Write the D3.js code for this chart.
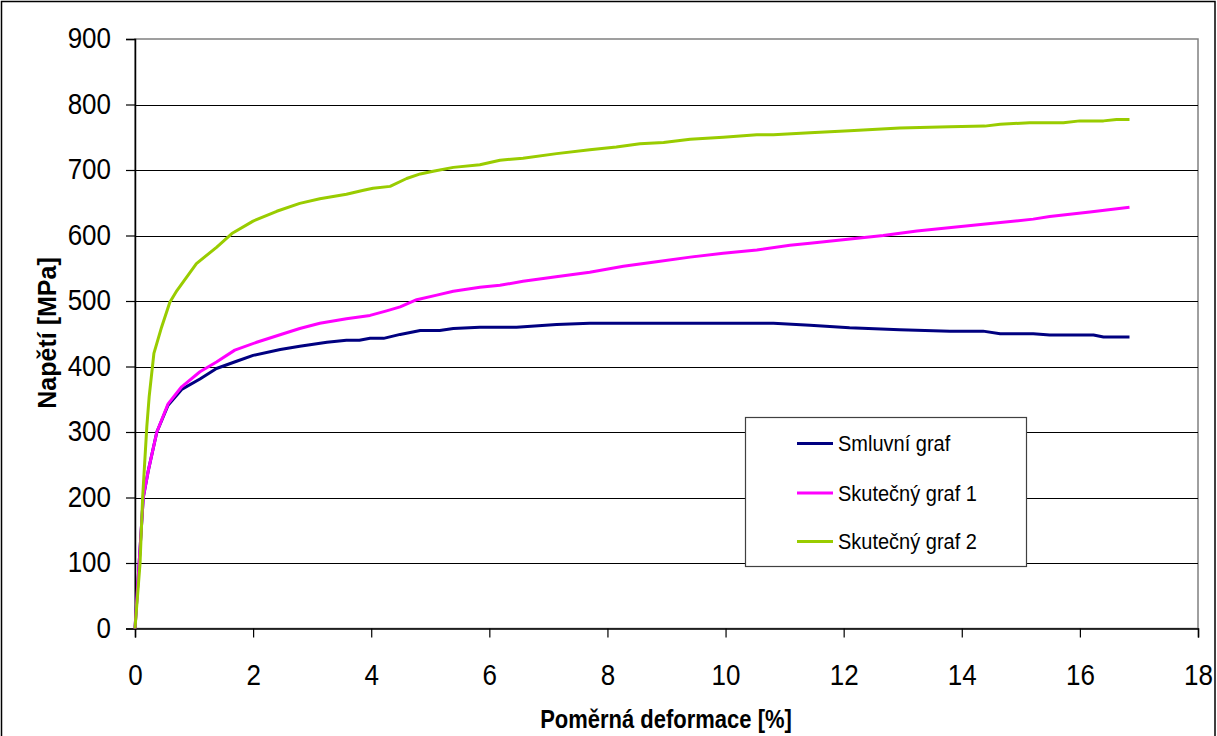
<!DOCTYPE html>
<html>
<head>
<meta charset="utf-8">
<script src="https://cdn.jsdelivr.net/npm/d3@7"></script>
<style>
  html, body { margin: 0; padding: 0; background: #fff; }
  svg { display: block; }
  text { font-family: "Liberation Sans", Arial, sans-serif; fill: #000; }
</style>
</head>
<body>
<svg id="chart" width="1217" height="736"></svg>
<script>
// ---- data ----
const seriesNames = ["Smluvní graf", "Skutečný graf 1", "Skutečný graf 2"];
const seriesColors = ["#000080", "#FF00FF", "#99CC00"];

const smluvniStrain = [0, 0.14, 0.225, 0.37, 0.56, 0.79, 1.10, 1.38, 1.72, 2.00, 2.46, 2.79, 3.25, 3.58, 3.80, 3.98, 4.21, 4.49, 4.83, 5.16, 5.39, 5.84, 6.46, 7.14, 7.70, 10.81, 11.43, 12.10, 12.95, 13.80, 14.36, 14.65, 15.21, 15.49, 16.23, 16.40, 16.84];
const smluvniStress = [0, 200, 241, 300, 341, 365, 381, 397, 408, 417, 426, 431, 437, 440, 440, 443, 443, 449, 455, 455, 458, 460, 460, 464, 466, 466, 463, 459, 456, 454, 454, 450, 450, 448, 448, 445, 445];

const skut1Strain = [0, 0.14, 0.225, 0.37, 0.56, 0.79, 1.10, 1.38, 1.69, 2.06, 2.51, 2.79, 3.13, 3.58, 3.98, 4.26, 4.49, 4.77, 5.11, 5.39, 5.84, 6.18, 6.57, 7.13, 7.70, 8.27, 8.83, 9.40, 9.96, 10.53, 11.09, 11.43, 12.67, 13.24, 14.36, 15.21, 15.49, 16.17, 16.84];
const skut1Stress = [0, 200, 241, 300, 343, 369, 392, 407, 425, 437, 450, 458, 466, 473, 478, 485, 491, 502, 509, 515, 521, 524, 530, 537, 544, 553, 560, 567, 573, 578, 585, 588, 600, 607, 617, 625, 629, 636, 643];

const skut2Strain = [0, 0.085, 0.13, 0.2, 0.24, 0.32, 0.45, 0.59, 0.71, 1.04, 1.38, 1.64, 2.0, 2.4, 2.79, 3.13, 3.58, 3.87, 4.03, 4.32, 4.60, 4.83, 5.05, 5.39, 5.84, 6.18, 6.57, 7.14, 7.70, 8.15, 8.55, 8.95, 9.40, 9.96, 10.53, 10.81, 11.43, 12.10, 12.95, 13.80, 14.39, 14.65, 15.15, 15.72, 16.0, 16.4, 16.62, 16.84];
const skut2Stress = [0, 99, 201, 308, 354, 420, 460, 498, 516, 557, 582, 603, 622, 637, 649, 656, 663, 669, 672, 675, 687, 694, 698, 704, 708, 715, 718, 725, 731, 735, 740, 742, 747, 750, 754, 754, 757, 760, 764, 766, 767, 770, 772, 772, 775, 775, 777, 777];

const xTicks = [0, 2, 4, 6, 8, 10, 12, 14, 16, 18];
const yTicks = [0, 100, 200, 300, 400, 500, 600, 700, 800, 900];
const xTitle = "Poměrná deformace [%]";
const yTitle = "Napětí [MPa]";

// ---- layout ----
const svg = d3.select("#chart");
const pLeft = 135, pRight = 1198, pTop = 39, pBottom = 628.5;
const SY = 1.15;   // vertical stretch of tick text in the original
const SYT = 1.2;   // vertical stretch of the x title
const SYL = 1.1;   // vertical stretch of legend text

const x = d3.scaleLinear().domain([0, 18]).range([pLeft, pRight]);
const y = d3.scaleLinear().domain([0, 900]).range([pBottom, pTop]);

// outer chart frame
svg.append("rect").attr("x", 1.5).attr("y", 1.5).attr("width", 1213.5).attr("height", 745)
  .attr("fill", "#fff").attr("stroke", "#000").attr("stroke-width", 1.5);

// plot area border (grey)
svg.append("rect").attr("x", pLeft).attr("y", pTop).attr("width", pRight - pLeft).attr("height", pBottom - pTop)
  .attr("fill", "#fff").attr("stroke", "#808080").attr("stroke-width", 1.5);

// gridlines
svg.append("g").selectAll("line").data(yTicks.filter(v => v > 0 && v < 900)).join("line")
  .attr("x1", pLeft).attr("x2", pRight)
  .attr("y1", d => Math.round(y(d)) + 0.5).attr("y2", d => Math.round(y(d)) + 0.5)
  .attr("stroke", "#000").attr("stroke-width", 1.2);

// y axis
const yAxis = svg.append("g").attr("transform", `translate(${pLeft},0)`)
  .call(d3.axisLeft(y).tickValues(yTicks).tickSize(9).tickPadding(15).tickFormat(d3.format("d")));
yAxis.select(".domain").attr("stroke", "#000").attr("stroke-width", 1.5);
yAxis.selectAll(".tick line").attr("stroke", "#000").attr("stroke-width", 1.2);
yAxis.selectAll(".tick text")
  .attr("font-size", 26).attr("font-family", "Liberation Sans, Arial, sans-serif")
  .attr("dy", "0.3em").attr("transform", `scale(1,${SY})`);

// x axis
const xAxis = svg.append("g").attr("transform", `translate(0,${pBottom})`)
  .call(d3.axisBottom(x).tickValues(xTicks).tickSize(9).tickFormat(d3.format("d")));
xAxis.select(".domain").attr("stroke", "#000").attr("stroke-width", 1.5);
xAxis.selectAll(".tick line").attr("stroke", "#000").attr("stroke-width", 1.2);
xAxis.selectAll(".tick text")
  .attr("font-size", 26).attr("font-family", "Liberation Sans, Arial, sans-serif")
  .attr("dy", 0).attr("y", 56.5 / SY).attr("transform", `scale(1,${SY})`);

// axis titles
svg.append("text").attr("transform", `translate(666,728) scale(1,${SYT})`)
  .attr("text-anchor", "middle").attr("font-size", 22).attr("font-weight", "bold")
  .text(xTitle);
svg.append("text").attr("transform", `translate(56,333) rotate(-90)`)
  .attr("text-anchor", "middle").attr("font-size", 25).attr("font-weight", "bold")
  .text(yTitle);

// lines
const series = [
  { name: seriesNames[0], color: seriesColors[0], xs: smluvniStrain, ys: smluvniStress },
  { name: seriesNames[1], color: seriesColors[1], xs: skut1Strain, ys: skut1Stress },
  { name: seriesNames[2], color: seriesColors[2], xs: skut2Strain, ys: skut2Stress }
];
const line = d3.line().x(d => x(d[0])).y(d => y(d[1]));
svg.append("g").selectAll("path").data(series).join("path")
  .attr("d", s => line(s.xs.map((v, i) => [v, s.ys[i]])))
  .attr("fill", "none").attr("stroke", s => s.color).attr("stroke-width", 3)
  .attr("stroke-linejoin", "round");

// legend
const lg = svg.append("g");
lg.append("rect").attr("x", 745.5).attr("y", 417.5).attr("width", 281).attr("height", 149)
  .attr("fill", "#fff").attr("stroke", "#404040").attr("stroke-width", 1.2);
const rowsY = [443.5, 493, 541.5];
series.forEach((s, i) => {
  lg.append("line").attr("x1", 797).attr("x2", 833).attr("y1", rowsY[i]).attr("y2", rowsY[i])
    .attr("stroke", s.color).attr("stroke-width", 3);
  lg.append("text").attr("transform", `translate(838,${rowsY[i] + 7.5}) scale(1,${SYL})`)
    .attr("font-size", 20).text(s.name);
});
</script>
</body>
</html>
